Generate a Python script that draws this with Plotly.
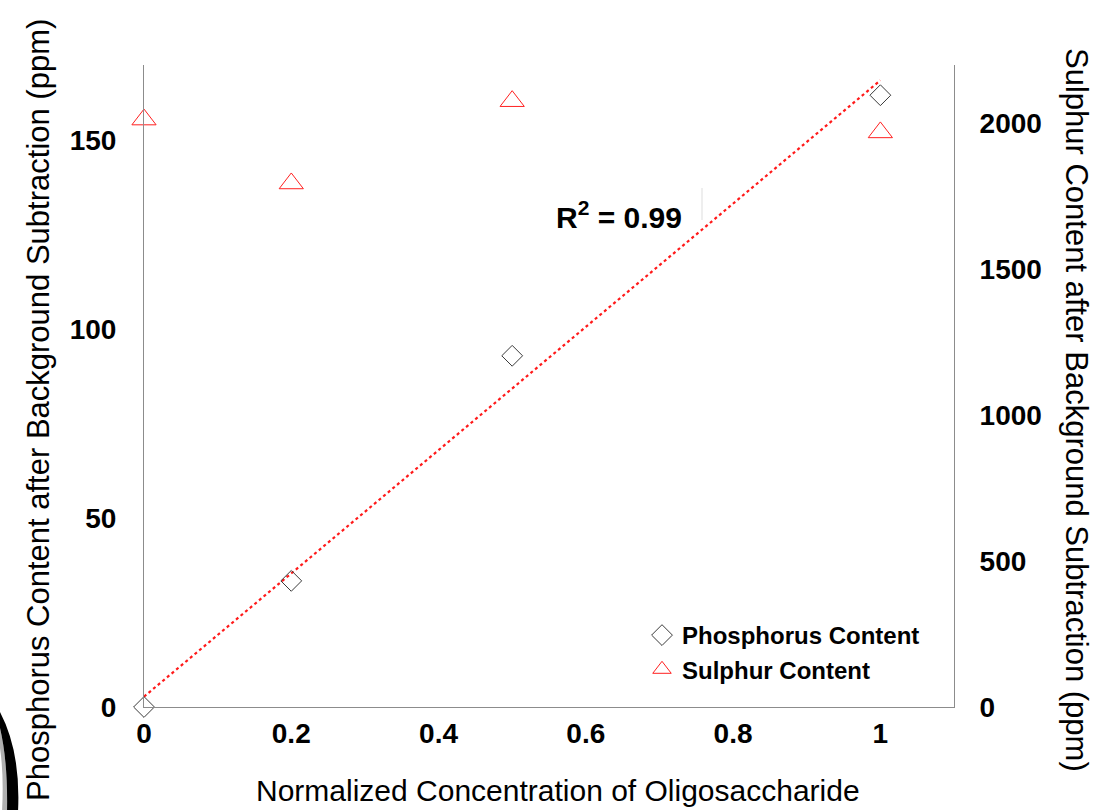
import numpy as np
import plotly.graph_objects as go

# ---- data ----
conc = [0, 0.2, 0.5, 1.0]
phosphorus = [0, 33.4, 93.0, 162.0]
sulphur = [2013, 1794, 2076, 1969]
x_ticks = [0, 0.2, 0.4, 0.6, 0.8, 1]
x_tick_labels = ["0", "0.2", "0.4", "0.6", "0.8", "1"]
y_ticks = [0, 50, 100, 150]
y2_ticks = [0, 500, 1000, 1500, 2000]
r2_label = "R<sup>2</sup> = 0.99"

# linear trend of phosphorus data
slope, intercept = np.polyfit(conc, phosphorus, 1)
trend_x = [0, 1]
trend_y = [intercept + slope * v for v in trend_x]

# ---- layout geometry ----
W, H = 1115, 810
L, R, T, B = 144, 161, 65, 103
PW, PH = W - L - R, H - T - B


def px(x):
    return (x - L) / PW


def py(y):
    return (H - B - y) / PH


FONT = "Liberation Sans, Arial, sans-serif"
AXCOL = "#8c8c8c"

fig = go.Figure()
fig.add_trace(go.Scatter(
    x=trend_x, y=trend_y, mode="lines", showlegend=False,
    line=dict(color="#ff1a1a", width=2.2, dash="dot"), cliponaxis=False,
    hoverinfo="skip"))
fig.add_trace(go.Scatter(
    x=conc, y=phosphorus, mode="markers", name="Phosphorus Content",
    marker=dict(symbol="diamond-open", size=16, color="#3a3a3a",
                line=dict(width=1, color="#3a3a3a")),
    cliponaxis=False))
fig.add_trace(go.Scatter(
    x=conc, y=sulphur, mode="markers", name="Sulphur Content", yaxis="y2",
    marker=dict(symbol="triangle-up-open", size=21, color="#ff2020",
                line=dict(width=1, color="#ff2020")),
    cliponaxis=False))

tickfont = dict(family=FONT, size=28, color="black", weight="bold")

fig.update_layout(
    width=W, height=H,
    margin=dict(l=L, r=R, t=T, b=B),
    paper_bgcolor="white", plot_bgcolor="white",
    font=dict(family=FONT, color="black"),
    xaxis=dict(range=[0, 1.1], tickvals=x_ticks, ticktext=x_tick_labels,
               showgrid=False, zeroline=False, showline=True,
               linecolor=AXCOL, linewidth=1, ticks="",
               tickfont=tickfont, ticklabelstandoff=1),
    yaxis=dict(range=[0, 170], tickvals=y_ticks, showgrid=False,
               zeroline=False, showline=True, linecolor=AXCOL, linewidth=1,
               ticks="", tickfont=tickfont, ticklabelstandoff=21),
    yaxis2=dict(range=[0, 2200], tickvals=y2_ticks, overlaying="y",
                side="right", showgrid=False, zeroline=False, showline=True,
                linecolor=AXCOL, linewidth=1, ticks="", tickfont=tickfont,
                ticklabelstandoff=19),
    legend=dict(x=px(642), y=py(613), xanchor="left", yanchor="top",
                bgcolor="rgba(0,0,0,0)",
                font=dict(family=FONT, size=24, color="black",
                          weight="bold"),
                tracegroupgap=0),
    showlegend=True,
)

annotations = [
    dict(text="Phosphorus Content after Background Subtraction (ppm)",
         x=px(38), y=py(410), textangle=-90, size=31),
    dict(text="Sulphur Content after Background Subtraction (ppm)",
         x=px(1077), y=py(410), textangle=90, size=31),
    dict(text="Normalized Concentration of Oligosaccharide",
         x=px(558), y=py(790), textangle=0, size=30),
]
for a in annotations:
    fig.add_annotation(xref="paper", yref="paper", showarrow=False,
                       xanchor="center", yanchor="middle",
                       text=a["text"], x=a["x"], y=a["y"],
                       textangle=a["textangle"],
                       font=dict(family=FONT, size=a["size"], color="black"))

fig.add_annotation(xref="paper", yref="paper", showarrow=False,
                   x=px(619), y=py(215), xanchor="center", yanchor="middle",
                   text="<b>" + r2_label + "</b>",
                   font=dict(family=FONT, size=30, color="black"))

# small decorative artifacts seen in the reference
fig.add_shape(type="line", xref="paper", yref="paper",
              x0=px(702), x1=px(702), y0=py(188), y1=py(220),
              line=dict(color="#dddddd", width=1))

gray_arc = ("M {a},{b} Q {c},{d} {e},{f} L {g},{h} Q {i},{j} {k},{m} Z").format(
    a=px(0), b=py(728), c=px(8), d=py(762), e=px(7), f=py(812),
    g=px(2), h=py(812), i=px(4), j=py(775), k=px(0), m=py(748))
fig.add_shape(type="path", xref="paper", yref="paper", path=gray_arc,
              fillcolor="#b0b0b0", line=dict(width=0))
crescent = ("M {a},{b} Q {c},{d} {e},{f} L {g},{h} Q {i},{j} {k},{m} Z").format(
    a=px(0), b=py(712), c=px(21), d=py(752), e=px(18), f=py(812),
    g=px(7), h=py(812), i=px(8), j=py(762), k=px(0), m=py(728))
fig.add_shape(type="path", xref="paper", yref="paper", path=crescent,
              fillcolor="black", line=dict(width=0))

fig.write_html("out.html")
